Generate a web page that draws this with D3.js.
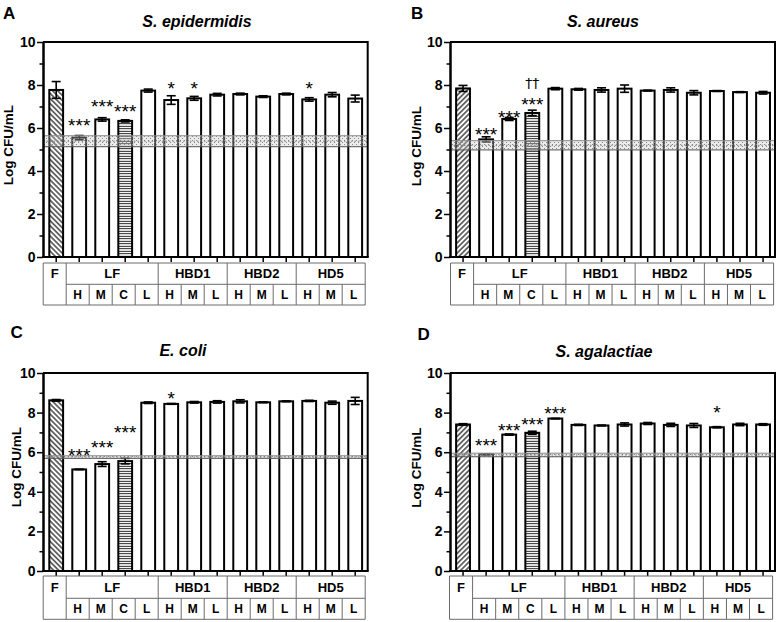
<!DOCTYPE html>
<html><head><meta charset="utf-8">
<script src="https://cdn.jsdelivr.net/npm/d3@7"></script>
<style>
body{margin:0;background:#fff}
svg{display:block}
text{font-family:"Liberation Sans",Arial,Helvetica,sans-serif}
</style>
</head><body>
<svg id="chart" width="778" height="622"></svg>
<script>
// ---------- data ----------
const categories = ["F","LF-H","LF-M","LF-C","LF-L","HBD1-H","HBD1-M","HBD1-L","HBD2-H","HBD2-M","HBD2-L","HD5-H","HD5-M","HD5-L"];
const groupLabels = ["F","LF","HBD1","HBD2","HD5"];
const groupSizes = [1,4,3,3,3];
const subLabels = ["","H","M","C","L","H","M","L","H","M","L","H","M","L"];
const titles = ["S. epidermidis","S. aureus","E. coli","S. agalactiae"];
const panelLetters = ["A","B","C","D"];
const majorTicks = [0,2,4,6,8,10];
const minorTicks = [1,3,5,7,9];

const meanA = [7.77,5.55,6.40,6.33,7.74,7.30,7.38,7.55,7.58,7.46,7.58,7.33,7.55,7.37];
const errA  = [0.39,0.10,0.08,0.05,0.07,0.20,0.09,0.06,0.04,0.04,0.04,0.08,0.10,0.16];
const meanB = [7.84,5.47,6.42,6.70,7.83,7.80,7.77,7.83,7.74,7.77,7.64,7.72,7.67,7.64];
const errB  = [0.14,0.12,0.07,0.13,0.05,0.04,0.10,0.17,0.02,0.10,0.10,0.02,0.02,0.06];
const meanC = [8.62,5.13,5.40,5.55,8.50,8.44,8.52,8.54,8.57,8.52,8.57,8.59,8.50,8.59];
const errC  = [0.04,0.01,0.12,0.14,0.04,0.02,0.04,0.06,0.08,0.02,0.02,0.03,0.08,0.18];
const meanD = [7.40,5.89,6.89,6.98,7.70,7.38,7.35,7.40,7.45,7.38,7.35,7.26,7.40,7.40];
const errD  = [0.04,0.02,0.03,0.08,0.01,0.03,0.02,0.08,0.05,0.08,0.10,0.03,0.06,0.04];

// inoculum range band (low, high)
const rangeA = [5.13,5.64];
const rangeB = [4.98,5.41];
const rangeC = [5.69,5.82];
const rangeD = [5.77,5.95];

// significance marks: [bar index, mark, level]
const sigA = [[1,"***",6.33],[2,"***",7.22],[3,"***",6.99],[5,"*",8.05],[6,"*",8.05],[11,"*",8.05]];
const sigB = [[1,"***",5.91],[2,"***",6.73],[3,"***",7.33],[3,"††",8.08]];
const sigC = [[1,"***",6.10],[2,"***",6.47],[3,"***",7.25],[5,"*",8.95]];
const sigD = [[1,"***",6.61],[2,"***",7.33],[3,"***",7.66],[4,"***",8.20],[11,"*",8.23]];

const means = [meanA,meanB,meanC,meanD];
const errs = [errA,errB,errC,errD];
const ranges = [rangeA,rangeB,rangeC,rangeD];
const sigs = [sigA,sigB,sigC,sigD];

// ---------- layout ----------
const layout = [
 {ax:43, top:42, bottom:257, x0:44.7, x1:366.7, right:367.7, tTop:263, tMid:284.3, tBot:305, tOff:-1.5, lx:3, ly:18.5, tx:197, ty:27, yx:12.5, yy:145, hatch:"back"},
 {ax:450, top:42, bottom:257, x0:451.5, x1:774.6, right:775, tTop:263, tMid:284.3, tBot:305, tOff:-1, lx:411, ly:18.5, tx:603, ty:27, yx:420.5, yy:146, hatch:"fwd"},
 {ax:43, top:373, bottom:571, x0:44.7, x1:366.7, right:367.7, tTop:576, tMid:598.3, tBot:619.3, tOff:-1.5, lx:10.5, ly:338, tx:183, ty:356, yx:20.5, yy:467, hatch:"back"},
 {ax:450, top:373, bottom:571, x0:451.5, x1:774.6, right:775, tTop:576, tMid:598.3, tBot:619.3, tOff:-2, lx:417.5, ly:340, tx:604, ty:357, yx:420.5, yy:467.5, hatch:"fwd"}
];

const svg = d3.select("#chart");
const defs = svg.append("defs");

function hatch(id, angle, size, sw){
  const p = defs.append("pattern").attr("id",id).attr("patternUnits","userSpaceOnUse")
    .attr("width",size).attr("height",size).attr("patternTransform",`rotate(${angle})`);
  p.append("rect").attr("width",size).attr("height",size).attr("fill","#fff");
  p.append("line").attr("x1",size/2).attr("y1",0).attr("x2",size/2).attr("y2",size)
    .attr("stroke","#000").attr("stroke-width",sw);
}
hatch("hBack",-45,3.6,1.1);
hatch("hFwd",45,3.6,1.1);
hatch("hHoriz",90,2.5,0.9);
const dots = defs.append("pattern").attr("id","dots").attr("patternUnits","userSpaceOnUse").attr("width",4).attr("height",4);
dots.append("rect").attr("width",4).attr("height",4).attr("fill","rgba(200,200,200,0.35)");
dots.append("rect").attr("x",0).attr("y",0).attr("width",1).attr("height",1).attr("fill","#8a8a8a");
dots.append("rect").attr("x",2).attr("y",2).attr("width",1).attr("height",1).attr("fill","#8a8a8a");

layout.forEach((L, pi) => {
  const g = svg.append("g");
  const y = d3.scaleLinear().domain([0,10]).range([L.bottom, L.top]);
  const x = d3.scaleBand().domain(categories).range([L.x0, L.x1]).padding(0);
  const step = x.step();
  const bw = step*0.6;
  const vals = means[pi], er = errs[pi];

  // bars
  g.selectAll("rect.bar").data(categories).join("rect")
    .attr("x", d => x(d) + (step-bw)/2)
    .attr("y", (d,i) => y(vals[i]))
    .attr("width", bw)
    .attr("height", (d,i) => y(0) - y(vals[i]))
    .attr("fill", (d,i) => i===0 ? (L.hatch==="back" ? "url(#hBack)" : "url(#hFwd)") : (i===3 ? "url(#hHoriz)" : "#fff"))
    .attr("stroke","#000").attr("stroke-width",2);

  // error bars
  const eg = g.append("g").attr("stroke","#000").attr("stroke-width",1.6);
  categories.forEach((c,i) => {
    const cx = x(c) + step/2, cap = 4.5;
    const y1 = y(vals[i]+er[i]), y2 = y(vals[i]-er[i]);
    eg.append("line").attr("x1",cx).attr("x2",cx).attr("y1",y1).attr("y2",y2);
    eg.append("line").attr("x1",cx-cap).attr("x2",cx+cap).attr("y1",y1).attr("y2",y1);
    eg.append("line").attr("x1",cx-cap).attr("x2",cx+cap).attr("y1",y2).attr("y2",y2);
  });

  // inoculum band
  const r = ranges[pi];
  g.append("rect").attr("x",L.ax).attr("width",L.right-L.ax)
    .attr("y",y(r[1])).attr("height",y(r[0])-y(r[1])).attr("fill","url(#dots)");
  g.append("line").attr("x1",L.ax).attr("x2",L.right).attr("y1",y(r[1])).attr("y2",y(r[1]))
    .attr("stroke","#8a8a8a").attr("stroke-width",1);
  g.append("line").attr("x1",L.ax).attr("x2",L.right).attr("y1",y(r[0])).attr("y2",y(r[0]))
    .attr("stroke","#555").attr("stroke-width",1);
  g.append("line").attr("x1",L.ax).attr("x2",L.right).attr("y1",y((r[0]+r[1])/2)).attr("y2",y((r[0]+r[1])/2))
    .attr("stroke","#666").attr("stroke-width",0.8).attr("stroke-dasharray","1.5,2");

  // frame top/right
  g.append("line").attr("x1",L.ax).attr("x2",L.right).attr("y1",L.top).attr("y2",L.top).attr("stroke","#000").attr("stroke-width",2);
  g.append("line").attr("x1",L.right).attr("x2",L.right).attr("y1",L.top-1).attr("y2",L.bottom).attr("stroke","#000").attr("stroke-width",2);

  // y axis
  const yMinor = g.append("g").attr("transform",`translate(${L.ax},0)`)
    .call(d3.axisLeft(y).tickValues(minorTicks).tickSize(3.5).tickSizeOuter(0).tickFormat(""));
  const yMajor = g.append("g").attr("transform",`translate(${L.ax},0)`)
    .call(d3.axisLeft(y).tickValues(majorTicks).tickSize(6).tickSizeOuter(0).tickPadding(1.5));
  [yMinor,yMajor].forEach(a => {
    a.select(".domain").attr("stroke","#000").attr("stroke-width",2);
    a.selectAll(".tick line").attr("stroke","#000").attr("stroke-width",1.5);
  });
  yMajor.selectAll(".tick text").attr("font-size",14).attr("font-weight","bold").attr("fill","#000")
    .style("font-family","'Liberation Sans',Arial,sans-serif");

  // x axis
  const xa = g.append("g").attr("transform",`translate(0,${L.bottom})`)
    .call(d3.axisBottom(x).tickSize(5).tickSizeOuter(0).tickFormat(""));
  xa.select(".domain").attr("d",`M${L.ax-1},0H${L.right+1}`).attr("stroke","#000").attr("stroke-width",2);
  xa.selectAll(".tick line").attr("stroke","#000").attr("stroke-width",1.5);

  // significance marks
  sigs[pi].forEach(([i,mark,lev]) => {
    const cx = x(categories[i]) + step/2;
    const isDag = mark.indexOf("†")>=0;
    const fs = isDag ? 14 : 19;
    g.append("text").attr("x",cx).attr("y", y(lev) + (isDag ? 0.32*fs : 0.6*fs))
      .attr("text-anchor","middle").attr("font-size",fs)
      .style("fill","#000").style("font-family", isDag ? "'DejaVu Sans',sans-serif" : "'Liberation Sans',Arial,sans-serif")
      .text(mark);
  });

  // table
  const tg = g.append("g");
  const colX = i => L.x0 + i*step + L.tOff;
  function ln(x1,y1,x2,y2){ tg.append("line").attr("x1",x1).attr("y1",y1).attr("x2",x2).attr("y2",y2).attr("stroke","#6b6b6b").attr("stroke-width",1); }
  ln(colX(0),L.tTop,colX(14),L.tTop);
  ln(colX(0),L.tBot,colX(14),L.tBot);
  ln(colX(1),L.tMid,colX(14),L.tMid);
  let acc = 0;
  const bounds = [0];
  groupSizes.forEach(s => { acc += s; bounds.push(acc); });
  bounds.forEach(b => ln(colX(b),L.tTop,colX(b),L.tBot));
  for (let i=2;i<14;i++) if (bounds.indexOf(i)<0) ln(colX(i),L.tMid,colX(i),L.tBot);
  groupLabels.forEach((lab,gi) => {
    tg.append("text").attr("x",(colX(bounds[gi])+colX(bounds[gi+1]))/2).attr("y",(L.tTop+L.tMid)/2+4.6)
      .attr("text-anchor","middle").attr("font-size",13).attr("font-weight","bold").text(lab);
  });
  subLabels.forEach((lab,i) => {
    if (!lab) return;
    tg.append("text").attr("x",colX(i)+step/2).attr("y",(L.tMid+L.tBot)/2+4.3)
      .attr("text-anchor","middle").attr("font-size",12).attr("font-weight","bold").text(lab);
  });

  // titles, letters, y label
  g.append("text").attr("x",L.tx).attr("y",L.ty).attr("text-anchor","middle")
    .attr("font-size",16).attr("font-weight","bold").attr("font-style","italic").text(titles[pi]);
  g.append("text").attr("x",L.lx).attr("y",L.ly).attr("font-size",17).attr("font-weight","bold").text(panelLetters[pi]);
  g.append("text").attr("transform",`translate(${L.yx},${L.yy}) rotate(-90)`).attr("text-anchor","middle")
    .attr("font-size",13.5).attr("font-weight","bold").text("Log CFU/mL");
});
</script>
</body></html>
